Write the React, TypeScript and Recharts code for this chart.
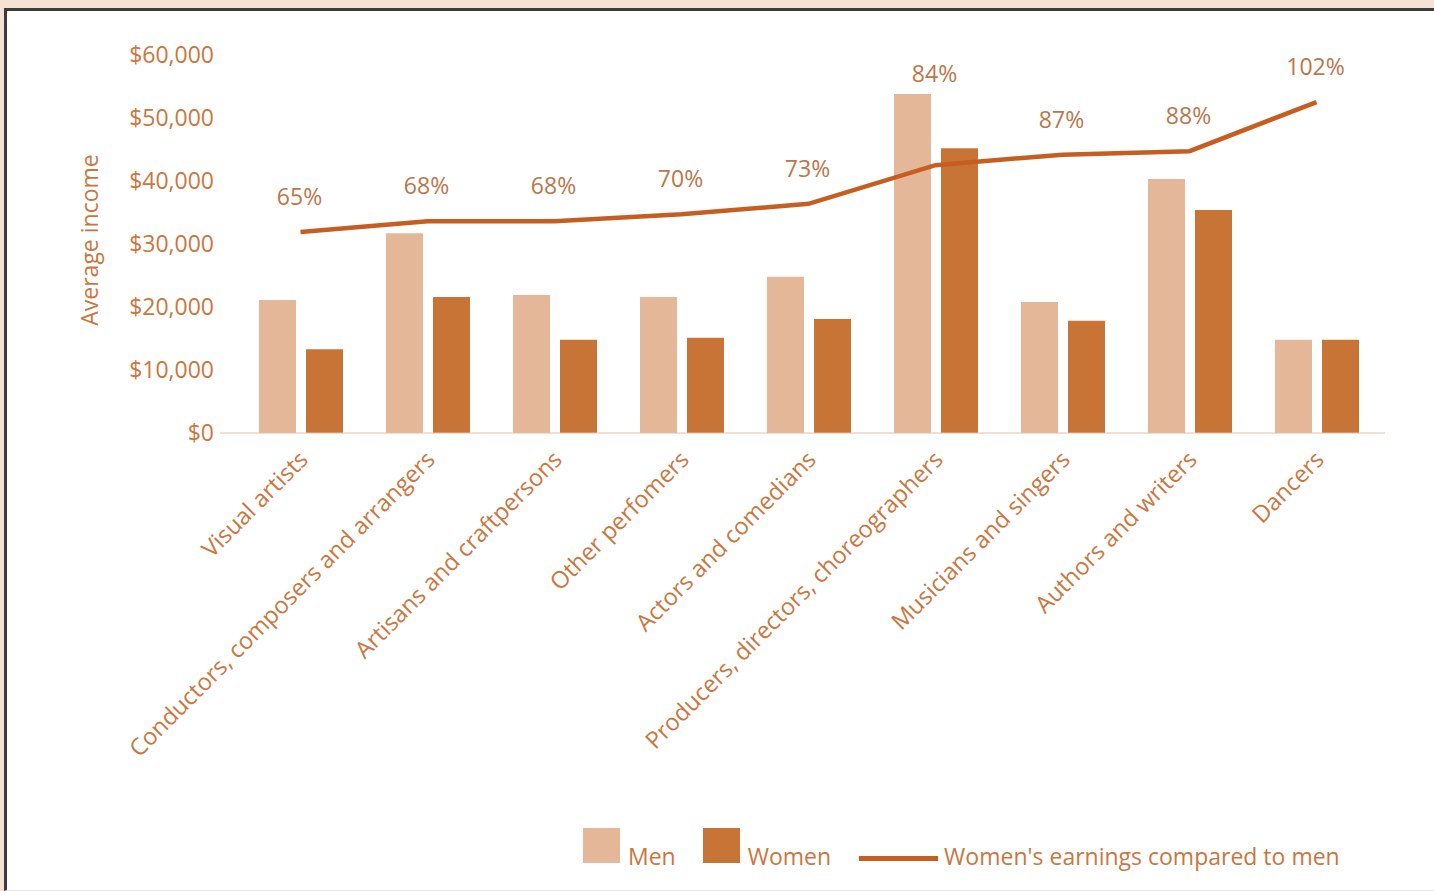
import React from "react";
import { Bar, ComposedChart, Label, LabelList, Legend, Line, XAxis, YAxis } from "recharts";

const categories = [
    "Visual artists",
    "Conductors, composers and arrangers",
    "Artisans and craftpersons",
    "Other perfomers",
    "Actors and comedians",
    "Producers, directors, choreographers",
    "Musicians and singers",
    "Authors and writers",
    "Dancers",
];
const menIncome = [21100, 31700, 21900, 21600, 24800, 53800, 20800, 40300, 14800];
const womenIncome = [13300, 21600, 14800, 15100, 18100, 45200, 17800, 35400, 14800];
const womenShare = [65, 68, 68, 70, 73, 84, 87, 88, 102];
const incomeTicks = [0, 10000, 20000, 30000, 40000, 50000, 60000];

const FONT = "'Open Sans', sans-serif";
const TEXT = "#c9773f";
const MEN = "#e4b798";
const WOMEN = "#c97437";
const LINE = "#c65e22";

const TOP = 55;
const PLOT_H = 378;
const Y_MAX = 60000;

const rows = categories.map((name, i) => ({
    name,
    men: menIncome[i],
    women: womenIncome[i],
    share: womenShare[i],
}));

function CategoryTick(props: any) {
    const { x, y, payload } = props;
    return (
        <g transform={`translate(${x + 9},${y + 20})`}>
            <text x={0} y={0} textAnchor="end" transform="rotate(-45)"
                fill={TEXT} fontSize={23.5} fontFamily={FONT}>
                {payload.value}
            </text>
        </g>
    );
}

function ShareLabel(props: any) {
    const { x, y, value, index } = props;
    // keep the label clear of the men bar
    const barTop = TOP + PLOT_H * (1 - menIncome[index] / Y_MAX);
    const ly = Math.min(y - 27, barTop - 12);
    return (
        <text x={x - 1} y={ly} textAnchor="middle" fill="#b9774c" fontSize={23} fontFamily={FONT}>
            {value}%
        </text>
    );
}

function LegendBox() {
    const item = { display: "flex", alignItems: "flex-end" } as const;
    const txt = {
        color: TEXT, fontSize: 23, fontFamily: FONT, lineHeight: "24px",
        marginLeft: 8, position: "relative", top: 5,
    } as const;
    return (
        <div style={{ height: 40, position: "relative", top: -7, display: "flex", alignItems: "flex-start", paddingLeft: 583 }}>
            <div style={item}>
                <div style={{ width: 37, height: 35, background: MEN }} />
                <span style={txt}>Men</span>
            </div>
            <div style={{ ...item, marginLeft: 27 }}>
                <div style={{ width: 37, height: 35, background: WOMEN }} />
                <span style={txt}>Women</span>
            </div>
            <div style={{ ...item, marginLeft: 28, alignItems: "center", marginTop: 13 }}>
                <div style={{ width: 79, height: 5, background: LINE, marginTop: 10 }} />
                <span style={{ ...txt, marginLeft: 6, top: 3 }}>Women's earnings compared to men</span>
            </div>
        </div>
    );
}

export default function App() {
    return (
        <div style={{ position: "relative", width: 1434, height: 891, background: "#f6e2d4", overflow: "hidden" }}>
            <style>{"body{margin:0}"}</style>
            <div style={{
                position: "absolute", left: 4, top: 8, width: 1440, height: 879,
                borderTop: "3px solid #3c3c3c", borderLeft: "3px solid #3c3c3c",
                borderBottom: "1px solid #e6e6e6", background: "#fff",
            }} />
            <div style={{ position: "absolute", left: 0, top: 0 }}>
                <ComposedChart
                    width={1434}
                    height={891}
                    data={rows}
                    barSize={37}
                    barGap={10}
                    margin={{ top: TOP, right: 49, bottom: 16, left: 0 }}
                >
                    <XAxis
                        dataKey="name"
                        interval={0}
                        height={402}
                        padding={{ left: 17, right: 5 }}
                        tickLine={false}
                        stroke="#e2bea6"
                        tick={<CategoryTick />}
                    />
                    <YAxis
                        yAxisId="inc"
                        width={220}
                        domain={[0, Y_MAX]}
                        ticks={incomeTicks}
                        axisLine={false}
                        tickLine={false}
                        tickMargin={0}
                        tick={{ fill: TEXT, fontSize: 23, fontFamily: FONT }}
                        tickFormatter={(v: number) => `$${v.toLocaleString("en-US")}`}
                    >
                        <Label value="Average income" angle={-90} position="center" dx={-20} dy={-4}
                            fill={TEXT} fontSize={23} fontFamily={FONT} />
                    </YAxis>
                    <YAxis yAxisId="pct" orientation="right" hide domain={[7.7, 115.4]} />
                    <Legend verticalAlign="bottom" content={<LegendBox />} wrapperStyle={{ left: 0, width: 1434 }} />
                    <Bar yAxisId="inc" dataKey="men" name="Men" fill={MEN} isAnimationActive={false} />
                    <Bar yAxisId="inc" dataKey="women" name="Women" fill={WOMEN} isAnimationActive={false} />
                    <Line
                        yAxisId="pct"
                        dataKey="share"
                        name="Women's earnings compared to men"
                        type="linear"
                        stroke={LINE}
                        strokeWidth={4.5}
                        dot={false}
                        isAnimationActive={false}
                    >
                        <LabelList dataKey="share" content={<ShareLabel />} />
                    </Line>
                </ComposedChart>
            </div>
        </div>
    );
}
